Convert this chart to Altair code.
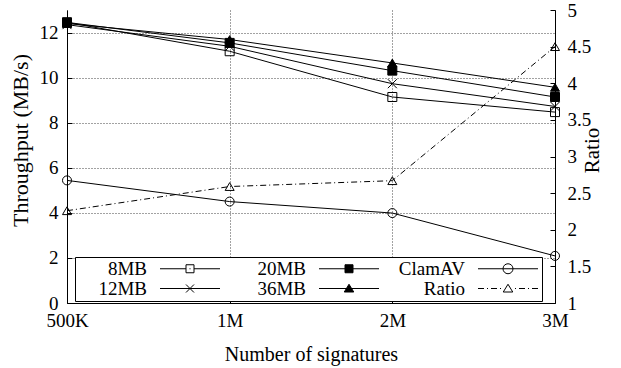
import altair as alt
import pandas as pd

FONT = "Liberation Serif"

# ---- data ----
sigs = ["500K", "1M", "2M", "3M"]
mb8 = [12.45, 11.17, 9.14, 8.47]
mb12 = [12.35, 11.39, 9.73, 8.72]
mb20 = [12.45, 11.54, 10.31, 9.14]
mb36 = [12.40, 11.69, 10.65, 9.57]
clamav = [5.44, 4.50, 3.99, 2.09]
ratio = [2.26, 2.59, 2.67, 4.50]

left_ticks = [0, 2, 4, 6, 8, 10, 12]
right_ticks = [1, 1.5, 2, 2.5, 3, 3.5, 4, 4.5, 5]

order = ["8MB", "20MB", "ClamAV", "12MB", "36MB", "Ratio"]
point_shapes = ["square", "square", "circle", "M-1,-1L1,1M-1,1L1,-1", "triangle-up", "triangle-up"]
point_fills = ["transparent", "black", "transparent", "transparent", "black", "transparent"]
point_sizes = [81, 81, 110, 70, 110, 110]
point_strokes = ["black"] * 6

left_rows = []
for name, vals in [("8MB", mb8), ("12MB", mb12), ("20MB", mb20), ("36MB", mb36), ("ClamAV", clamav)]:
    for s, v in zip(sigs, vals):
        left_rows.append({"series": name, "sig": s, "value": v})
left_df = pd.DataFrame(left_rows)
right_df = pd.DataFrame({"series": ["Ratio"] * len(sigs), "sig": sigs, "value": ratio})
legend_df = pd.DataFrame({"series": pd.Series([], dtype=str)})

# ---- legend sample glyphs (line + marker), 1 unit = 5 px ----
full_line = "M-6,0H6"
sq = "M-0.8,-0.8H0.8V0.8H-0.8Z"
circ = ("M1,0C1,0.552,0.552,1,0,1C-0.552,1,-1,0.552,-1,0"
        "C-1,-0.552,-0.552,-1,0,-1C0.552,-1,1,-0.552,1,0Z")
xm = "M-0.8,-0.8L0.8,0.8M-0.8,0.8L0.8,-0.8"
tri = "M0,-0.85L0.95,0.7L-0.95,0.7Z"
dashdot = ("M-6,0H-4.8M-4.2,0H-4.0M-3.4,0H-2.2M-1.6,0H-1.4"
           "M1.4,0H1.6M2.2,0H3.4M4.0,0H4.2M4.8,0H6")
legend_paths = [
    "M-6,0H-0.8M0.8,0H6M-0.1,0H0.1" + sq,   # 8MB
    full_line + sq,                           # 20MB
    full_line + circ,                         # ClamAV
    full_line + xm,                           # 12MB
    full_line + tri,                          # 36MB
    dashdot + tri,                            # Ratio
]

legend = alt.Legend(
    title=None, orient="none", legendX=8, legendY=247, columns=3, direction="horizontal",
    gridAlign="all", columnPadding=14, rowPadding=0, padding=2,
    strokeColor="black", fillColor="white", cornerRadius=0,
    labelFont=FONT, labelFontSize=19, labelColor="black", labelAlign="right",
    labelBaseline="middle", labelOffset=alt.ExprRef(expr="-52.5"), labelLimit=300,
    symbolSize=100, symbolOffset=103.5, symbolStrokeWidth=1,
    symbolStrokeColor="black", symbolOpacity=1,
)

grid_kw = dict(gridColor="#444444", gridDash=[1, 2], gridWidth=1)

x_enc = alt.X(
    "sig:N", sort=sigs, scale=alt.Scale(type="point", padding=0),
    axis=alt.Axis(title="Number of signatures", labelAngle=0, grid=True,
                  tickSize=alt.ExprRef(expr="-5"), labelPadding=13,
                  titleY=57, titleBaseline="alphabetic", **grid_kw),
)
y_left = alt.Y(
    "value:Q", scale=alt.Scale(domain=[0, 13], nice=False, zero=False),
    axis=alt.Axis(title="Throughput (MB/s)", values=left_ticks, grid=True,
                  tickSize=alt.ExprRef(expr="-5"), labelPadding=14,
                  titleX=-47, titleY=130, titleAngle=270, titleAlign="center",
                  titleBaseline="middle", titleFontSize=22, **grid_kw),
)
y_right = alt.Y(
    "value:Q", scale=alt.Scale(domain=[1, 5], nice=False, zero=False),
    axis=alt.Axis(title="Ratio", orient="right", values=right_ticks, format="~g",
                  grid=False, tickSize=alt.ExprRef(expr="-5"), labelPadding=17,
                  titleX=37, titleY=140, titleAngle=270, titleAlign="center",
                  titleBaseline="middle", titleFontSize=21),
)

pt_shape = alt.Shape("series:N", scale=alt.Scale(domain=order, range=point_shapes), legend=None)
pt_fill = alt.Fill("series:N", scale=alt.Scale(domain=order, range=point_fills), legend=None)
pt_size = alt.Size("series:N", scale=alt.Scale(domain=order, range=point_sizes), legend=None)

left_lines = alt.Chart(left_df).mark_line(color="black", strokeWidth=1).encode(
    x=x_enc, y=y_left, detail="series:N")
left_points = alt.Chart(left_df).mark_point(filled=True, stroke="black", strokeWidth=1, opacity=1).encode(
    x=x_enc, y=y_left, shape=pt_shape, fill=pt_fill, size=pt_size)
right_line = alt.Chart(right_df).mark_line(color="black", strokeWidth=1, strokeDash=[6, 3, 1, 3]).encode(
    x=x_enc, y=y_right)
right_points = alt.Chart(right_df).mark_point(filled=True, stroke="black", strokeWidth=1, opacity=1).encode(
    x=x_enc, y=y_right, shape=pt_shape, fill=pt_fill, size=pt_size)

legend_layer = alt.Chart(legend_df).mark_point(filled=False, color="black", stroke="black",
                                               strokeWidth=1, opacity=1).encode(
    shape=alt.Shape("series:N", scale=alt.Scale(domain=order, range=legend_paths), legend=legend),
    fill=alt.Fill("series:N", scale=alt.Scale(domain=order, range=point_fills), legend=legend),
    stroke=alt.Stroke("series:N", scale=alt.Scale(domain=order, range=point_strokes), legend=legend),
)

chart = alt.layer(
    alt.layer(left_lines, left_points),
    alt.layer(right_line, right_points),
    legend_layer,
).resolve_scale(y="independent", shape="independent", fill="independent",
                size="independent", stroke="independent").properties(
    width=488, height=293,
    autosize=alt.AutoSizeParams(type="none"),
    padding={"left": 67, "top": 10, "right": 66, "bottom": 65},
).configure_view(stroke=None).configure_axis(
    labelFont=FONT, labelFontSize=19, labelColor="black",
    titleFont=FONT, titleFontSize=20, titleFontWeight="normal", titleColor="black",
    domainColor="black", domainWidth=1, tickColor="black", tickWidth=1,
)

chart.save("out.html", embed_options={"renderer": "svg", "actions": False})
